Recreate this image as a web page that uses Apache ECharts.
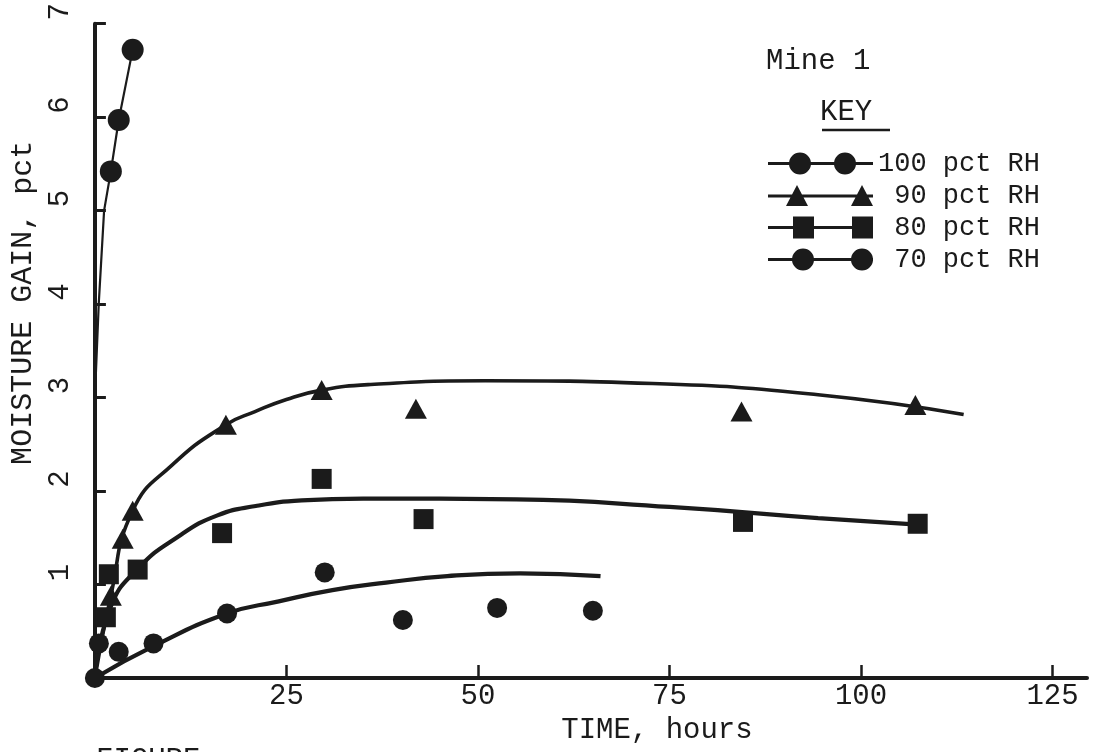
<!DOCTYPE html>
<html>
<head>
<meta charset="utf-8">
<script src="https://cdn.jsdelivr.net/npm/echarts@6/dist/echarts.min.js"></script>
<style>
html,body{margin:0;padding:0;background:#ffffff;}
#c{width:1093px;height:752px;}
</style>
</head>
<body>
<div id="c"></div>
<script>
// ---- data ----
const xTicks = [25, 50, 75, 100, 125];
const yTicks = [1, 2, 3, 4, 5, 6, 7];

const rh100Points = [[2.08, 5.42], [3.11, 5.97], [4.93, 6.72]];
const rh100Fit = [[0, 0], [0.1, 3.2], [0.5, 4.0], [1.2, 5.0], [2.08, 5.42], [3.11, 5.97], [4.93, 6.72]];

const rh90Points = [[2.08, 0.88], [3.63, 1.49], [4.93, 1.79], [17.1, 2.71], [29.6, 3.08], [41.9, 2.88], [84.4, 2.85], [107.1, 2.92]];
const rh90Fit = [[0, 0], [2.08, 0.88], [4.93, 1.79], [10.1, 2.28], [17.1, 2.71], [20.9, 2.85], [25, 2.98], [29.6, 3.08], [36, 3.14], [51, 3.18], [72.8, 3.15], [94.4, 3.03], [113.4, 2.82]];

const rh80Points = [[1.43, 0.65], [1.82, 1.11], [5.58, 1.16], [16.6, 1.55], [29.6, 2.13], [42.9, 1.70], [84.6, 1.67], [107.4, 1.65]];
const rh80Fit = [[0, 0], [2, 0.75], [5.6, 1.17], [11, 1.52], [16, 1.74], [21, 1.84], [27, 1.90], [35, 1.92], [55, 1.91], [75, 1.83], [94.4, 1.71], [107.4, 1.64]];

const rh70Points = [[0, 0], [0.52, 0.37], [3.11, 0.28], [7.65, 0.37], [17.25, 0.69], [30, 1.13], [40.2, 0.62], [52.5, 0.75], [65, 0.72]];
const rh70Fit = [[0, 0], [7.65, 0.34], [17.25, 0.69], [24, 0.82], [31, 0.94], [38, 1.02], [46, 1.09], [55.5, 1.12], [66, 1.09]];

const seriesNames = ['100 pct RH', '90 pct RH', '80 pct RH', '70 pct RH'];
const legendLabels = ['100 pct RH', ' 90 pct RH', ' 80 pct RH', ' 70 pct RH'];

// ---- styling ----
const INK = '#1b1b1b';
const FONT = '"Liberation Mono", "Courier New", monospace';

const iconCircles = 'path://M0,9.6H105V12.4H0Z M21,11A11,11 0 1,1 43,11A11,11 0 1,1 21,11Z M66,11A11,11 0 1,1 88,11A11,11 0 1,1 66,11Z';
const iconTri = 'path://M0,9.6H105V12.4H0Z M18,21L29,0L40,21Z M83,21L94,0L105,21Z';
const iconSq = 'path://M0,9.6H105V12.4H0Z M25,0H46V22H25Z M84,0H105V22H84Z';
const iconCircles2 = 'path://M0,9.6H105V12.4H0Z M24,11A11,11 0 1,1 46,11A11,11 0 1,1 24,11Z M83,11A11,11 0 1,1 105,11A11,11 0 1,1 83,11Z';
const icons = [iconCircles, iconTri, iconSq, iconCircles2];

function fitSeries(name, data, width, smooth) {
  return {
    name: name + ' fit', type: 'line', data: data, showSymbol: false, symbol: 'none',
    smooth: smooth,
    lineStyle: { color: INK, width: width }, silent: true, z: 2
  };
}
function pointSeries(name, data, symbol, size) {
  return {
    name: name, type: 'scatter', data: data, symbol: symbol, symbolSize: size,
    itemStyle: { color: INK, opacity: 1 }, z: 3
  };
}

const chart = echarts.init(document.getElementById('c'));
chart.setOption({
  backgroundColor: '#ffffff',
  animation: false,
  textStyle: { fontFamily: FONT, color: INK },
  grid: { left: 89, right: 6, top: 19, bottom: 74 },
  title: [
    { text: 'Mine 1', left: 766, top: 47, padding: 0,
      textStyle: { fontFamily: FONT, fontSize: 29, fontWeight: 'normal', color: INK } },
    { text: 'KEY', left: 820, top: 98, padding: 0,
      textStyle: { fontFamily: FONT, fontSize: 29, fontWeight: 'normal', color: INK } },
    { text: 'FIGURE', left: 96, top: 746, padding: 0,
      textStyle: { fontFamily: FONT, fontSize: 29, fontWeight: 'normal', color: INK } }
  ],
  graphic: [
    { type: 'line', shape: { x1: 822, y1: 130, x2: 890, y2: 130 },
      style: { stroke: INK, lineWidth: 2.5 } }
  ],
  legend: {
    orient: 'vertical', left: 768, top: 150, itemWidth: 105, itemHeight: 22, itemGap: 5,
    padding: 0, selectedMode: false,
    textStyle: { fontFamily: FONT, fontSize: 27, color: INK },
    data: seriesNames.map((n, i) => ({ name: n, icon: icons[i] })),
    formatter: function (n) { return legendLabels[seriesNames.indexOf(n)]; }
  },
  xAxis: {
    type: 'value', min: 0, max: 129.5,
    name: 'TIME, hours', nameLocation: 'middle', nameGap: 24,
    nameTextStyle: { fontFamily: FONT, fontSize: 29, color: INK, padding: [0, 0, 0, 132] },
    axisLine: { show: true, onZero: false, lineStyle: { color: INK, width: 4 } },
    axisTick: { show: true, inside: true, length: 13, customValues: xTicks, lineStyle: { color: INK, width: 2.5 } },
    axisLabel: { customValues: xTicks, margin: 4, fontFamily: FONT, fontSize: 29, color: INK },
    splitLine: { show: false }
  },
  yAxis: {
    type: 'value', min: 0, max: 7,
    name: 'MOISTURE GAIN, pct', nameLocation: 'middle', nameGap: 46,
    nameTextStyle: { fontFamily: FONT, fontSize: 30, color: INK, padding: [0, 0, 0, 96] },
    axisLine: { show: true, onZero: false, lineStyle: { color: INK, width: 4 } },
    axisTick: { show: true, inside: true, length: 11, customValues: yTicks, lineStyle: { color: INK, width: 3 } },
    axisLabel: { customValues: yTicks, rotate: 90, margin: 20, fontFamily: FONT, fontSize: 29, color: INK, padding: [0, 0, 0, 24] },
    splitLine: { show: false }
  },
  series: [
    fitSeries(seriesNames[0], rh100Fit, 2.2, false),
    fitSeries(seriesNames[1], rh90Fit, 3.6, 0.5),
    fitSeries(seriesNames[2], rh80Fit, 4.2, 0.5),
    fitSeries(seriesNames[3], rh70Fit, 4.2, 0.5),
    pointSeries(seriesNames[0], rh100Points, 'circle', 22),
    pointSeries(seriesNames[1], rh90Points, 'triangle', [22, 20]),
    pointSeries(seriesNames[2], rh80Points, 'rect', 20),
    pointSeries(seriesNames[3], rh70Points, 'circle', 20)
  ]
});
</script>
</body>
</html>
